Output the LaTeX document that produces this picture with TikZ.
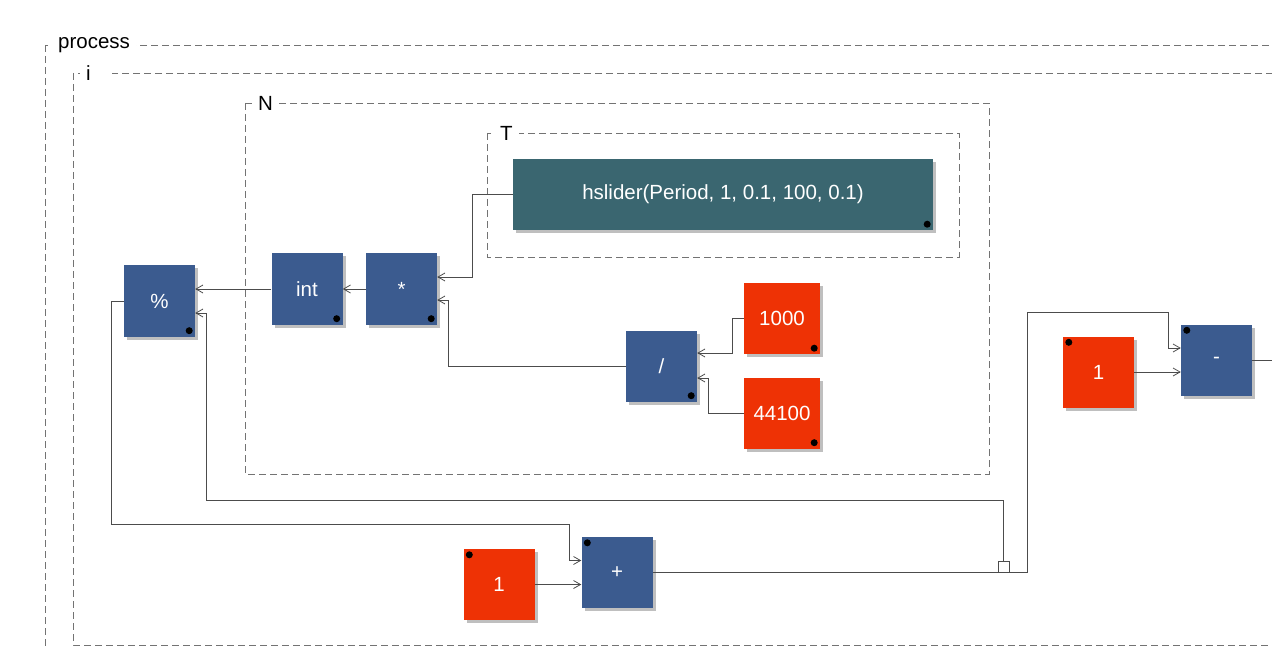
\documentclass[tikz,border=0pt]{standalone}
\usepackage{fontspec}
\setmainfont{Liberation Sans}
\usetikzlibrary{
    arrows.meta,
    shadows,
    calc,
    positioning
}

\definecolor{blockblue}{RGB}{59,91,143}
\definecolor{constred}{RGB}{238,50,5}
\definecolor{uiteal}{RGB}{58,102,112}

\tikzset{
    blk/.style={fill=blockblue, text=white, minimum width=71pt, minimum height=71pt, inner sep=0pt,
        drop shadow={shadow xshift=3pt, shadow yshift=-3pt, fill=black!25, opacity=1}},
    cst/.style={blk, fill=constred},
    wire/.style={draw=black!70, line width=0.8pt},
    arr/.style={wire, -{Straight Barb[length=7pt,width=8pt]}},
    grp/.style={draw=black!55, dash pattern=on 7pt off 4pt, line width=0.8pt},
    grplabel/.style={fill=white, inner xsep=6pt, inner ysep=1pt, anchor=west}
}

\begin{document}
\begin{tikzpicture}[x=1pt, y=-1pt, font=\fontsize{20.5}{24}\selectfont]
\useasboundingbox (0,0) rectangle (1272,647);
\clip (0,0) rectangle (1272,647);

% groups
\draw[grp] (45,45) rectangle (1300,700);
\node[grplabel] (lprocess) at (52,45) {process};
\draw[grp] (73,73) rectangle (1300,645);
\node[grplabel, text width=20pt, align=left] (li) at (80,73) {i};
\draw[grp] (245,103) rectangle (989,474);
\node[grplabel] (lN) at (252,103) {N};
\draw[grp] (487,133) rectangle (959,257);
\node[grplabel] (lT) at (494,133) {T};

% blocks
\node[blk] (pct) at (159.5,301) {\%};
\node[blk] (intb) at (307,289) {int};
\node[blk] (mul) at (401.5,289) {*};
\node[blk] (divb) at (661.5,366) {/};
\node[cst, minimum width=76pt] (k1000) at (782,318.5) {1000};
\node[cst, minimum width=76pt] (k44100) at (782,413) {44100};
\node[blk, fill=uiteal, minimum width=420pt] (slider) at (723,194.5) {hslider(Period, 1, 0.1, 100, 0.1)};
\node[cst] (oneA) at (499,584.5) {1};
\node[blk] (plus) at (617,572.5) {+};
\node[cst] (oneB) at (1098.5,372) {1};
\node[blk] (minus) at (1216.5,360) {-};
\node[draw=black!70, line width=0.8pt, minimum size=11pt, inner sep=0pt] (tap) at (1003.5,566.5) {};
\coordinate (out) at (1272,360);

% dots
\foreach \b in {pct,intb,mul,divb,k1000,k44100,slider}
    \fill ($(\b.south east)+(-6,-6)$) circle[radius=3.5pt];
\foreach \b in {oneA,plus,oneB,minus}
    \fill ($(\b.north west)+(6,6)$) circle[radius=3.5pt];

% wires
\draw[arr] (slider.west) -- ++(-40,0) |- ($(mul.east)+(0,-12)$);
\draw[arr] (divb.west) -- ++(-177,0) |- ($(mul.east)+(0,11)$);
\draw[arr] (k1000.west) -- ++(-11,0) |- ($(divb.east)+(0,-13)$);
\draw[arr] (k44100.west) -- ++(-35,0) |- ($(divb.east)+(0,12)$);
\draw[arr] (mul.west) -- (intb.east);
\draw[arr] (intb.west) -- ($(pct.east)+(0,-12)$);
\draw[arr] (tap.north) -- ++(0,-60) -| ($(pct.east)+(11,12)$) -- ($(pct.east)+(0,12)$);
\draw[arr] (pct.west) -- ++(-12,0) -- ++(0,223) -| ($(plus.west)+(-12,-12)$) -- ($(plus.west)+(0,-12)$);
\draw[arr] (oneA.east) -- ($(plus.west)+(0,12)$);
\draw[arr] (plus.east) -- ++(375,0) -- ++(0,-260) -| ($(minus.west)+(-12,-12)$) -- ($(minus.west)+(0,-12)$);
\draw[arr] (oneB.east) -- ($(minus.west)+(0,12)$);
\draw[wire] (minus.east) -- (out);
\end{tikzpicture}
\end{document}
